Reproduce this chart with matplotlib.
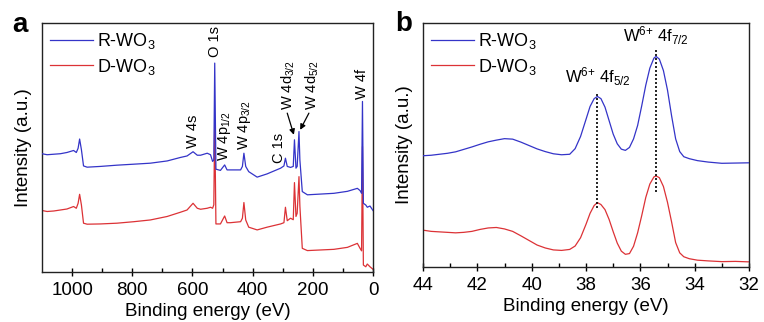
import matplotlib.pyplot as plt

plt.rcParams['font.family'] = ['Liberation Sans', 'DejaVu Sans']
plt.rcParams['mathtext.fontset'] = 'custom'
plt.rcParams['mathtext.rm'] = 'Liberation Sans'
plt.rcParams['mathtext.it'] = 'Liberation Sans:italic'

BLUE = '#3434c8'
RED = '#dc3236'

# survey spectra (binding energy in eV, intensity in a.u.)
survey_ev = [1100, 1083, 1061, 1039, 1017, 995, 986, 980, 975, 969, 962, 950,
             906, 851, 795, 740, 684, 640, 618, 598, 584, 573, 551, 540, 533,
             529, 526, 522, 507, 493, 485, 474, 440, 434, 429, 423, 413, 385,
             352, 307, 296, 291, 285, 274, 265, 261, 256, 252, 246, 243, 235,
             218, 130, 85, 52, 43, 38, 35, 32, 24, 19, 10, 0]
survey_r = [47.5, 47.1, 47.3, 47.5, 48.0, 48.8, 48.0, 49.7, 53.4, 49.1, 42.6, 42.1,
            42.4, 42.9, 43.3, 43.7, 44.6, 46.0, 46.6, 48.3, 46.9, 46.9, 47.7, 47.1, 44.4,
            45.0, 83.9, 41.3, 40.8, 43.0, 41.0, 41.0, 41.0, 42.4, 47.7, 42.4, 40.3, 38.1,
            39.4, 41.7, 42.6, 45.7, 42.4, 42.0, 42.4, 53.1, 41.7, 42.4, 56.4, 45.0, 32.3,
            31.0, 31.6, 32.4, 33.6, 32.7, 31.6, 68.5, 27.6, 26.9, 26.0, 26.5, 24.7]
survey_d = [24.7, 24.3, 24.5, 24.9, 25.3, 26.3, 25.6, 27.6, 31.2, 26.9, 19.6, 19.2,
            19.3, 19.6, 20.2, 20.9, 22.3, 24.0, 24.9, 27.6, 25.6, 25.2, 25.6, 26.0, 25.6,
            27.0, 61.0, 19.3, 19.3, 22.5, 19.8, 19.8, 20.2, 21.6, 27.9, 20.9, 18.0, 16.9,
            18.0, 19.3, 19.8, 26.0, 20.6, 21.6, 21.0, 35.9, 22.3, 23.6, 38.3, 26.5, 9.5,
            8.6, 9.1, 9.9, 11.5, 9.5, 8.5, 50.4, 2.8, 2.1, 3.2, 2.1, 1.1]

# high resolution W 4f region
w4f_ev = [44.0, 43.7, 43.4, 43.1, 42.8, 42.5, 42.2, 41.9, 41.6, 41.3, 41.0,
          40.7, 40.4, 40.1, 39.8, 39.5, 39.2, 38.9, 38.6, 38.4, 38.2, 38.0,
          37.85, 37.7, 37.58, 37.45, 37.3, 37.15, 37.0, 36.85, 36.7, 36.55,
          36.4, 36.25, 36.1, 35.95, 35.8, 35.65, 35.5, 35.42, 35.3, 35.15,
          35.0, 34.85, 34.7, 34.55, 34.4, 34.2, 33.9, 33.5, 33.0, 32.5, 32.0]
w4f_r = [45.6, 45.8, 46.2, 46.6, 47.2, 48.2, 49.2, 50.3, 51.3, 52.0, 52.6,
         52.4, 51.2, 49.8, 48.4, 47.3, 46.4, 46.0, 46.2, 48.5, 53.5, 60.5,
         65.8, 69.0, 69.9, 69.0, 65.5, 60.0, 54.5, 50.5, 48.3, 47.8,
         49.0, 52.5, 58.0, 66.0, 74.5, 81.5, 85.6, 86.3, 85.2, 80.5,
         72.5, 62.0, 52.5, 47.3, 45.2, 44.4, 43.6, 43.0, 42.5, 42.6, 42.7]
w4f_d = [15.1, 14.6, 14.4, 14.2, 14.0, 14.2, 14.6, 15.4, 16.0, 16.2, 15.6,
         14.6, 12.8, 10.9, 9.0, 7.8, 7.0, 6.8, 7.2, 8.6, 12.0, 17.5,
         22.0, 25.2, 26.4, 25.6, 23.5, 19.5, 14.5, 9.8, 6.5, 5.2,
         5.5, 8.5, 14.0, 21.0, 28.5, 34.0, 36.9, 37.3, 36.6, 33.0,
         26.5, 18.5, 10.0, 5.8, 4.2, 3.4, 2.8, 2.5, 2.2, 2.3, 2.1]

# rotated peak labels: (text, eV, bottom of label)
survey_labels = [
    ('W 4s', 598, 49.7),
    ('O 1s', 526, 86.5),
    (r'W 4p$\mathregular{_{1/2}}$', 493, 44.4),
    (r'W 4p$\mathregular{_{3/2}}$', 426, 49.0),
    ('C 1s', 313, 43.7),
    ('W 4f', 37, 69.5),
]
# labels with arrows: (text, label x, label bottom, arrow tail, arrow tip)
arrow_labels = [
    (r'W 4d$\mathregular{_{3/2}}$', 283, 65.1, (285, 63.8), (263, 55.1)),
    (r'W 4d$\mathregular{_{5/2}}$', 202, 65.1, (213, 63.8), (242, 57.1)),
]

W, H = 764, 322
fig = plt.figure(figsize=(W / 100, H / 100), dpi=100)
ax_a = fig.add_axes([42 / W, (H - 272) / H, 331 / W, 249 / H])
ax_b = fig.add_axes([423 / W, (H - 267) / H, 326 / W, 244 / H])


def style(ax):
    for s in ax.spines.values():
        s.set_linewidth(1.0)
        s.set_color('#222222')
    ax.set_yticks([])
    ax.tick_params(axis='x', which='major', direction='inout', length=6,
                   width=1, labelsize=13.5, pad=4)
    ax.tick_params(axis='x', which='minor', direction='in', length=3, width=1)
    ax.set_ylim(0, 100)
    ax.set_xlabel('Binding energy (eV)', fontsize=13.5, labelpad=3)
    ax.set_ylabel('Intensity (a.u.)', fontsize=13.5, labelpad=7)
    h, l = ax.get_legend_handles_labels()
    ax.legend(h[::-1], l[::-1], loc='upper left', frameon=False, fontsize=13,
              handlelength=2.4, handletextpad=0.2, labelspacing=0.3,
              borderaxespad=0.1, borderpad=0.35)


# panel a: survey
ax_a.plot(survey_ev, survey_d, color=RED, lw=0.9, label=r'D-WO$\mathregular{_3}$', zorder=2)
ax_a.plot(survey_ev, survey_r, color=BLUE, lw=0.9, label=r'R-WO$\mathregular{_3}$', zorder=3)
ax_a.set_xlim(1100, 0)
ax_a.set_xticks([1000, 800, 600, 400, 200, 0])
ax_a.set_xticks(range(100, 1100, 200), minor=True)
style(ax_a)

for txt, x, y in survey_labels:
    ax_a.text(x, y, txt, rotation=90, ha='center', va='bottom', fontsize=10.5)
for txt, x, y, tail, tip in arrow_labels:
    ax_a.text(x, y, txt, rotation=90, ha='center', va='bottom', fontsize=10.5)
    ax_a.annotate('', xy=tip, xytext=tail,
                  arrowprops=dict(arrowstyle='-|>', color='black', lw=0.9,
                                  mutation_scale=8, shrinkA=0, shrinkB=0))

# panel b: W 4f
ax_b.plot(w4f_ev, w4f_d, color=RED, lw=0.9, label=r'D-WO$\mathregular{_3}$', zorder=2)
ax_b.plot(w4f_ev, w4f_r, color=BLUE, lw=0.9, label=r'R-WO$\mathregular{_3}$', zorder=3)
ax_b.set_xlim(44, 32)
ax_b.set_xticks([44, 42, 40, 38, 36, 34, 32])
ax_b.set_xticks([43, 41, 39, 37, 35, 33], minor=True)
style(ax_b)

ax_b.vlines(37.58, 24.0, 71.9, colors='black', linestyles=(0, (1.2, 1.2)), lw=1.2)
ax_b.vlines(35.44, 30.8, 89.0, colors='black', linestyles=(0, (1.2, 1.2)), lw=1.2)
ax_b.text(37.56, 73.3, r'W$\mathregular{^{6{+}}}$ 4f$\mathregular{_{5/2}}$',
          ha='center', va='bottom', fontsize=12)
ax_b.text(35.41, 90.2, r'W$\mathregular{^{6{+}}}$ 4f$\mathregular{_{7/2}}$',
          ha='center', va='bottom', fontsize=12)

fig.text(12 / W, 1 - 25 / H, 'a', fontsize=20, fontweight='bold', va='center')
fig.text(395 / W, 1 - 24 / H, 'b', fontsize=20, fontweight='bold', va='center')

fig.savefig('out.png', dpi=100)
